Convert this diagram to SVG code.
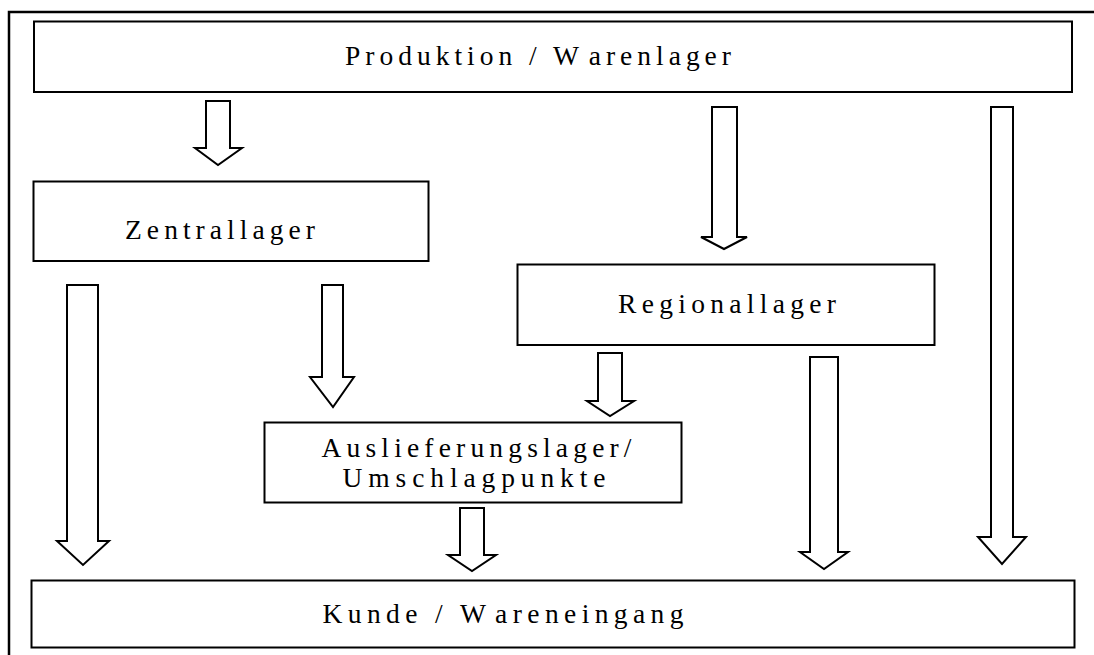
<svg xmlns="http://www.w3.org/2000/svg" width="1094" height="655" viewBox="0 0 1094 655">
  <style>
    .box { fill: #ffffff; stroke: #000000; stroke-width: 2; }
    .arrow { fill: #ffffff; stroke: #000000; stroke-width: 2; stroke-linejoin: miter; }
    .label { font-family: "Liberation Serif", "Times New Roman", serif; font-size: 27.5px; fill: #000000; }
    .frame { fill: none; stroke: #000000; stroke-width: 2.5; }
  </style>
  <rect x="0" y="0" width="1094" height="655" fill="#ffffff"/>
  <!-- outer frame: top and left edges -->
  <path class="frame" d="M9 655 V12 H1094"/>

  <g id="node-produktion">
    <rect class="box" x="34" y="21.5" width="1038" height="70.5"/>
    <text class="label" x="345" y="65" textLength="386" lengthAdjust="spacing">Produktion / W<tspan dx="7">arenlager</tspan></text>
  </g>
  <g id="node-zentrallager">
    <rect class="box" x="33.5" y="181.5" width="395" height="79.5"/>
    <text class="label" x="125" y="239" textLength="190" lengthAdjust="spacing">Zentrallager</text>
  </g>
  <g id="node-regionallager">
    <rect class="box" x="517.5" y="264.5" width="417" height="80.5"/>
    <text class="label" x="618" y="313" textLength="218" lengthAdjust="spacing">Regionallager</text>
  </g>
  <g id="node-auslieferungslager">
    <rect class="box" x="264.5" y="422.5" width="417" height="80"/>
    <text class="label" x="321.5" y="456.5" textLength="310" lengthAdjust="spacing">Auslieferungslager/</text>
    <text class="label" x="342.5" y="486.5" textLength="263" lengthAdjust="spacing">Umschlagpunkte</text>
  </g>
  <g id="node-kunde">
    <rect class="box" x="31.5" y="580.5" width="1043" height="67"/>
    <text class="label" x="322.5" y="623" textLength="361" lengthAdjust="spacing">Kunde / W<tspan dx="6">areneingang</tspan></text>
  </g>

  <g id="connectors">
    <!-- Produktion -> Zentrallager -->
    <polygon class="arrow" points="206,101 230,101 230,148 242,148 218,165 195,148 206,148"/>
    <!-- Produktion -> Regionallager -->
    <polygon class="arrow" points="712,107 737,107 737,237 747,237 724,249 701,237 712,237"/>
    <!-- Produktion -> Kunde -->
    <polygon class="arrow" points="991,107 1013,107 1013,537 1026,537 1002,564 978,537 991,537"/>
    <!-- Zentrallager -> Kunde -->
    <polygon class="arrow" points="67,285 98,285 98,541 109,541 83,565 57,541 67,541"/>
    <!-- Zentrallager -> Auslieferungslager -->
    <polygon class="arrow" points="322,285 343,285 343,377 354,377 333,407 310,377 322,377"/>
    <!-- Regionallager -> Auslieferungslager -->
    <polygon class="arrow" points="598,353 622,353 622,401 634,401 610,416 587,401 598,401"/>
    <!-- Regionallager -> Kunde -->
    <polygon class="arrow" points="810,357 838,357 838,552 848,552 824,569 800,552 810,552"/>
    <!-- Auslieferungslager -> Kunde -->
    <polygon class="arrow" points="460,508 484,508 484,555 496,555 472,571 448,555 460,555"/>
  </g>
</svg>
